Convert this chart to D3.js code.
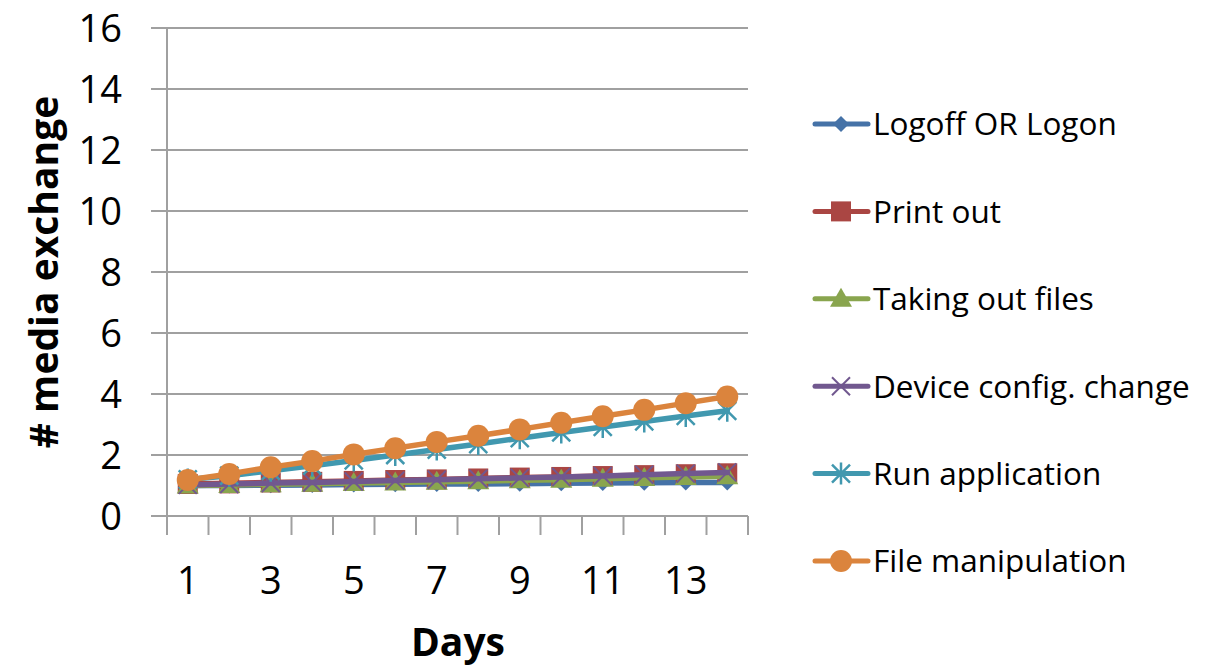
<!DOCTYPE html>
<html><head><meta charset="utf-8">
<script src="https://cdn.jsdelivr.net/npm/d3@7"></script>
<style>body{margin:0;background:#fff}svg{display:block}text{font-family:"Open Sans",sans-serif}</style>
</head><body>
<svg id="c" width="1227" height="667"></svg>
<script>
const days = [1,2,3,4,5,6,7,8,9,10,11,12,13,14];
const xTickLabels = [1,3,5,7,9,11,13];
const yTicks = [0,2,4,6,8,10,12,14,16];
const seriesNames = ["Logoff OR Logon","Print out","Taking out files","Device config. change","Run application","File manipulation"];
const logoff = [1.0,1.0,1.01,1.02,1.03,1.04,1.05,1.05,1.06,1.07,1.08,1.09,1.1,1.1];
const printOut = [1.05,1.07,1.1,1.12,1.15,1.18,1.2,1.23,1.26,1.28,1.31,1.34,1.37,1.4];
const takingOut = [1.0,1.02,1.04,1.06,1.08,1.1,1.12,1.14,1.17,1.19,1.22,1.25,1.28,1.3];
const deviceCfg = [1.02,1.05,1.08,1.1,1.13,1.16,1.19,1.22,1.25,1.28,1.31,1.35,1.39,1.43];
const runApp = [1.2,1.32,1.48,1.65,1.82,2.0,2.18,2.36,2.55,2.74,2.92,3.1,3.28,3.45];
const fileManip = [1.18,1.38,1.6,1.8,2.02,2.22,2.43,2.63,2.84,3.06,3.27,3.48,3.7,3.92];
const colors = ["#4572A7","#AA4643","#89A54E","#71588F","#4198AF","#DB843D"];
const markers = ["diamond","square","triangle","x","star","circle"];
const allSeries = [logoff,printOut,takingOut,deviceCfg,runApp,fileManip];

const svg = d3.select("#c");
const L=167, R=748, T=28, B=516;
const x = d3.scaleBand().domain(days).range([L,R]).padding(0);
const y = d3.scaleLinear().domain([0,16]).range([B,T]);
const grid = "#a0a0a0";

svg.append("g").selectAll("line").data(yTicks).join("line")
  .attr("x1",L-16).attr("x2",R).attr("y1",d=>y(d)).attr("y2",d=>y(d))
  .attr("stroke",grid).attr("stroke-width",2);
svg.append("line").attr("x1",L).attr("x2",L).attr("y1",T).attr("y2",B)
  .attr("stroke",grid).attr("stroke-width",2);
const bounds = days.map(d=>x(d)).concat([x(days[days.length-1])+x.bandwidth()]);
svg.append("g").selectAll("line").data(bounds).join("line")
  .attr("x1",d=>d).attr("x2",d=>d).attr("y1",B).attr("y2",B+19)
  .attr("stroke",grid).attr("stroke-width",2);

svg.append("g").selectAll("text").data(yTicks).join("text")
  .attr("x",122).attr("y",d=>y(d)).attr("dy","0.36em").attr("text-anchor","end")
  .attr("font-size",38).text(d=>d);
svg.append("g").selectAll("text").data(xTickLabels).join("text")
  .attr("x",d=>x(d)+x.bandwidth()/2).attr("y",594).attr("text-anchor","middle")
  .attr("font-size",38).text(d=>d);

svg.append("text").attr("transform","translate(58,272) rotate(-90)")
  .attr("text-anchor","middle").attr("font-weight","bold").attr("font-size",39)
  .text("# media exchange");
svg.append("text").attr("x",458).attr("y",656).attr("text-anchor","middle")
  .attr("font-weight","bold").attr("font-size",39).text("Days");

function drawMarker(g,type,cx,cy,color){
  if(type==="diamond"){
    g.append("path").attr("d",`M${cx},${cy-8}L${cx+8},${cy}L${cx},${cy+8}L${cx-8},${cy}Z`).attr("fill",color);
  } else if(type==="square"){
    g.append("rect").attr("x",cx-10).attr("y",cy-10).attr("width",20).attr("height",20).attr("fill",color);
  } else if(type==="triangle"){
    g.append("path").attr("d",`M${cx},${cy-11}L${cx+11},${cy+8}L${cx-11},${cy+8}Z`).attr("fill",color);
  } else if(type==="x"){
    g.append("path").attr("d",`M${cx-9},${cy-9}L${cx+9},${cy+9}M${cx+9},${cy-9}L${cx-9},${cy+9}`).attr("stroke",color).attr("stroke-width",2);
  } else if(type==="star"){
    g.append("path").attr("d",`M${cx-9},${cy-9}L${cx+9},${cy+9}M${cx+9},${cy-9}L${cx-9},${cy+9}M${cx},${cy-11}L${cx},${cy+11}`).attr("stroke",color).attr("stroke-width",2.5);
  } else {
    g.append("circle").attr("cx",cx).attr("cy",cy).attr("r",11).attr("fill",color);
  }
}

const line = d3.line().x((v,i)=>x(days[i])+x.bandwidth()/2).y(v=>y(v));
allSeries.forEach((s,k)=>{
  const g = svg.append("g");
  g.append("path").attr("d",line(s)).attr("fill","none").attr("stroke",colors[k])
    .attr("stroke-width",5.5).attr("stroke-linejoin","round").attr("stroke-linecap","round");
  s.forEach((v,i)=>drawMarker(g,markers[k],x(days[i])+x.bandwidth()/2,y(v),colors[k]));
});

const legY = d3.scaleLinear().domain([0,5]).range([124,561]);
seriesNames.forEach((n,k)=>{
  const g = svg.append("g");
  const cy = legY(k);
  g.append("line").attr("x1",815).attr("x2",868).attr("y1",cy).attr("y2",cy)
    .attr("stroke",colors[k]).attr("stroke-width",5).attr("stroke-linecap","round");
  drawMarker(g,markers[k],841,cy,colors[k]);
  g.append("text").attr("x",873).attr("y",cy).attr("dy","0.36em").attr("font-size",31.5).text(n);
});
</script>
</body></html>
